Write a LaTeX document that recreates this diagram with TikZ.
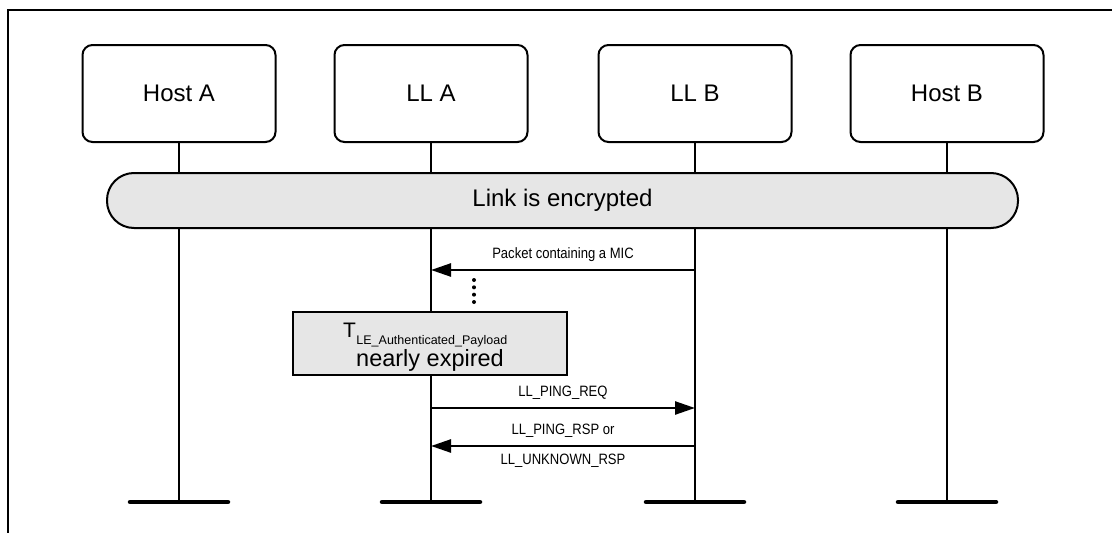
\documentclass[tikz,border=0pt]{standalone}
\usepackage{fontspec}
\setmainfont{Liberation Sans}
\newfontfamily\narrowfont[FakeStretch=0.87]{Liberation Sans}
\usetikzlibrary{arrows.meta,calc}
\definecolor{boxgray}{RGB}{230,230,230}
\tikzset{
  hostbox/.style={draw, line width=2pt, rounded corners=10pt, minimum width=193pt, minimum height=97pt, inner sep=0pt, font=\fontsize{24}{27}\selectfont},
  lifeline/.style={line width=2pt},
  endbar/.style={line width=4.5pt, line cap=round},
  encbar/.style={draw, line width=2pt, fill=boxgray, rounded corners=27pt, minimum width=911pt, minimum height=55pt, inner sep=0pt, font=\fontsize{24}{27}\selectfont},
  msg/.style={line width=2.5pt, -{Triangle[length=20pt,width=13pt]}},
  msglabel/.style={inner sep=0pt, font=\narrowfont\fontsize{15}{17}\selectfont},
  timerbox/.style={draw, line width=2pt, fill=boxgray, minimum width=274pt, minimum height=63pt, inner sep=0pt, align=center},
  frameline/.style={line width=2pt}
}
\begin{document}
\begin{tikzpicture}[x=1pt,y=-1pt]
\useasboundingbox (0,0) rectangle (1112,533);
% frame
\coordinate (fA) at (8,533);
\coordinate (fB) at (8,10);
\coordinate (fC) at (1112,10);
\draw[frameline] (fA) -- (fB) -- (fC);
% participant boxes
\node[hostbox] (hA) at (179,93.5) {Host A};
\node[hostbox] (lA) at (431,93.5) {LL A};
\node[hostbox] (lB) at (695,93.5) {LL B};
\node[hostbox] (hB) at (947,93.5) {Host B};
% lifeline ends
\coordinate (hAe) at (179,502);
\coordinate (lAe) at (431,502);
\coordinate (lBe) at (695,502);
\coordinate (hBe) at (947,502);
\foreach \p in {hA,lA,lB,hB}{
  \draw[lifeline] (\p.south) -- (\p e);
  \draw[endbar] ([xshift=-49pt]\p e) -- ([xshift=49pt]\p e);
}
% encrypted bar
\node[encbar] (enc) at (562.5,200.5) {Link is encrypted};
% message 1
\coordinate (a1) at (431,270);
\coordinate (b1) at (695,270);
\draw[msg] (b1) -- (a1) node[midway, above=7pt, msglabel] {Packet containing a MIC};
% dots
\coordinate (d1) at (474,280);
\coordinate (d2) at (474,302);
\foreach \t in {0,0.333,0.667,1}{
  \fill ($(d1)!\t!(d2)$) circle (2pt);
}
% timer box
\node[timerbox] (tmr) at (430,343.5) {};
\node[inner sep=0pt, anchor=base west] (tT) at (343,337) {\fontsize{21}{24}\selectfont T};
\node[inner sep=0pt, anchor=base west, font=\fontsize{12.5}{14}\selectfont] (tSub) at (tT.base east) [yshift=-7pt] {LE\_Authenticated\_Payload};
\node[inner sep=0pt, anchor=base, font=\fontsize{23.5}{26}\selectfont] (tExp) at (430,366) {nearly expired};
% message 2
\coordinate (a2) at (431,408);
\coordinate (b2) at (695,408);
\draw[msg] (a2) -- (b2) node[midway, above=7pt, msglabel] {LL\_PING\_REQ};
% message 3
\coordinate (a3) at (431,446);
\coordinate (b3) at (695,446);
\draw[msg] (b3) -- (a3) node[midway, above=7pt, msglabel] {LL\_PING\_RSP or}
                        node[midway, below=7pt, msglabel] {LL\_UNKNOWN\_RSP};
\end{tikzpicture}
\end{document}
